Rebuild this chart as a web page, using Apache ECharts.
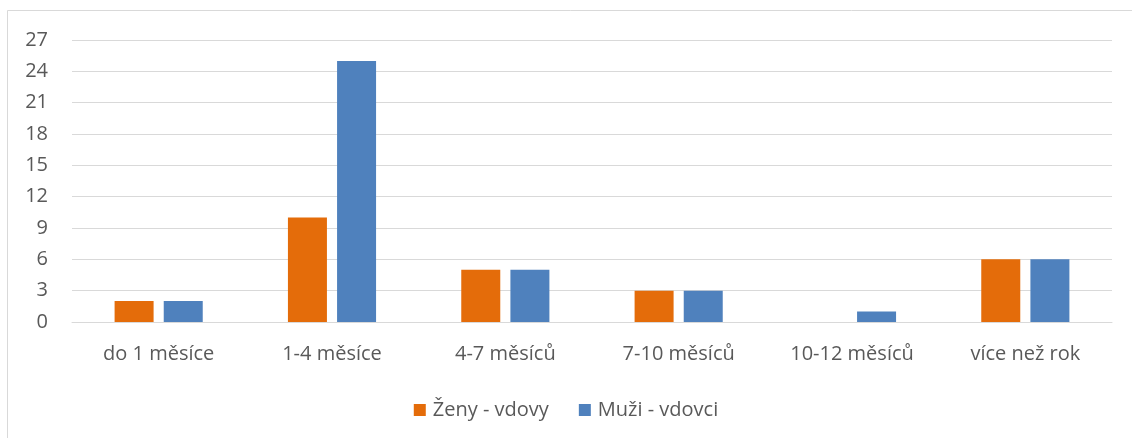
<!DOCTYPE html>
<html>
<head>
<meta charset="utf-8">
<script src="https://cdn.jsdelivr.net/npm/echarts@6/dist/echarts.min.js"></script>
<style>
html,body{margin:0;padding:0;background:#fff;}
#c{width:1132px;height:438px;}
</style>
</head>
<body>
<div id="c"></div>
<script>
const categories = ['do 1 měsíce', '1-4 měsíce', '4-7 měsíců', '7-10 měsíců', '10-12 měsíců', 'více než rok'];
const zeny = [2, 10, 5, 3, 0, 6];
const muzi = [2, 25, 5, 3, 1, 6];
const seriesNames = ['Ženy - vdovy', 'Muži - vdovci'];

const font = '"Open Sans", "Liberation Sans", sans-serif';
const chart = echarts.init(document.getElementById('c'), null, {renderer: 'canvas'});
chart.setOption({
  animation: false,
  backgroundColor: '#fff',
  graphic: [{
    type: 'rect',
    shape: {x: 7.5, y: 10.5, width: 1200, height: 600},
    style: {fill: 'none', stroke: '#d9d9d9', lineWidth: 1},
    silent: true, z: -10
  }],
  grid: {left: 72, right: 20, top: 40, bottom: 116, containLabel: false},
  legend: {
    top: 395,
    left: 'center',
    itemWidth: 12, itemHeight: 12, itemGap: 30,
    icon: 'rect',
    textStyle: {color: '#595959', fontSize: 20, fontFamily: font, padding: [0, 0, 0, 2]},
    data: seriesNames
  },
  xAxis: {
    type: 'category',
    data: categories,
    axisLine: {lineStyle: {color: '#d9d9d9', width: 1}},
    axisTick: {show: false},
    axisLabel: {color: '#595959', fontSize: 20, fontFamily: font, margin: 22}
  },
  yAxis: {
    type: 'value',
    min: 0, max: 27, interval: 3,
    axisLine: {show: false},
    axisTick: {show: false},
    splitLine: {lineStyle: {color: '#d9d9d9', width: 1}},
    axisLabel: {color: '#595959', fontSize: 20, fontFamily: font, margin: 24}
  },
  series: [
    {name: seriesNames[0], type: 'bar', data: zeny, barWidth: '22.5%', barGap: '26%',
     itemStyle: {color: '#E46C0A'}},
    {name: seriesNames[1], type: 'bar', data: muzi, barWidth: '22.5%', barGap: '26%',
     itemStyle: {color: '#4F81BD'}}
  ]
});
</script>
</body>
</html>
